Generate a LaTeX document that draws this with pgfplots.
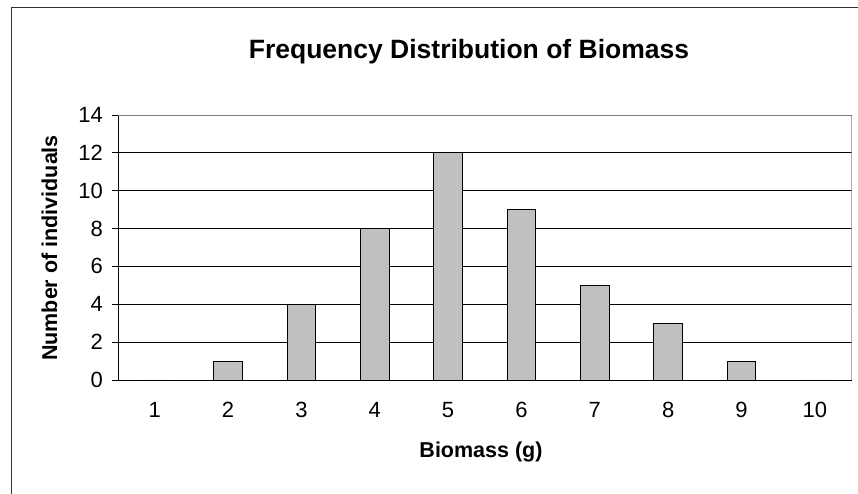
\documentclass[border=0pt]{standalone}
\usepackage{fontspec}
\setmainfont{Liberation Sans}
\usepackage{pgfplots}
\pgfplotsset{compat=1.18}
\definecolor{barfill}{RGB}{192,192,192}
\definecolor{framegray}{RGB}{128,128,128}
\begin{document}
\begin{tikzpicture}[x=1pt,y=1pt]
\useasboundingbox (0,0) rectangle (858,494);
\draw[line width=1pt, black!80] (11.5,-2) -- (11.5,486.7) -- (860,486.7);
\begin{axis}[
  at={(118pt,114pt)}, anchor=south west,
  scale only axis, width=733.5pt, height=265pt,
  xmin=0.5, xmax=10.5, ymin=0, ymax=14,
  axis x line*=bottom, axis y line*=left,
  axis line style={black, line width=0.8pt},
  xtick={1,...,10},
  x tick style={draw=none},
  extra x ticks={0.5,1.5,...,10.5},
  extra x tick labels={},
  extra x tick style={grid=none, tick align=outside, major tick length=6pt, tick style={draw=black, line width=0.8pt}},
  ytick={0,2,...,14},
  tick align=outside, major tick length=6pt,
  y tick style={black, line width=0.8pt},
  ymajorgrids, major grid style={black, line width=0.8pt},
  /pgf/number format/assume math mode=true,
  tick label style={font=\fontsize{22}{26}\selectfont},
  xticklabel style={anchor=base, yshift=-32pt},
  yticklabel style={anchor=east, inner xsep=0pt, xshift=-9pt},
  ybar, bar width=0.39, bar shift=0pt,
]
\addplot[fill=barfill, draw=black, line width=0.8pt] coordinates {
(1,0) (2,1) (3,4) (4,8) (5,12) (6,9) (7,5) (8,3) (9,1) (10,0)};
\draw[framegray, line width=0.8pt] (axis cs:0.5,14) -- (axis cs:10.5,14) -- (axis cs:10.5,0);
\end{axis}
\node[anchor=base, font=\fontsize{26.5}{30}\selectfont\bfseries] at (469,435) {Frequency Distribution of Biomass};
\node[anchor=base, font=\fontsize{21.5}{25}\selectfont\bfseries] at (481,36) {Biomass (g)};
\node[anchor=base, rotate=90, font=\fontsize{21.5}{25}\selectfont\bfseries] at (57,246) {Number of individuals};
\end{tikzpicture}
\end{document}
